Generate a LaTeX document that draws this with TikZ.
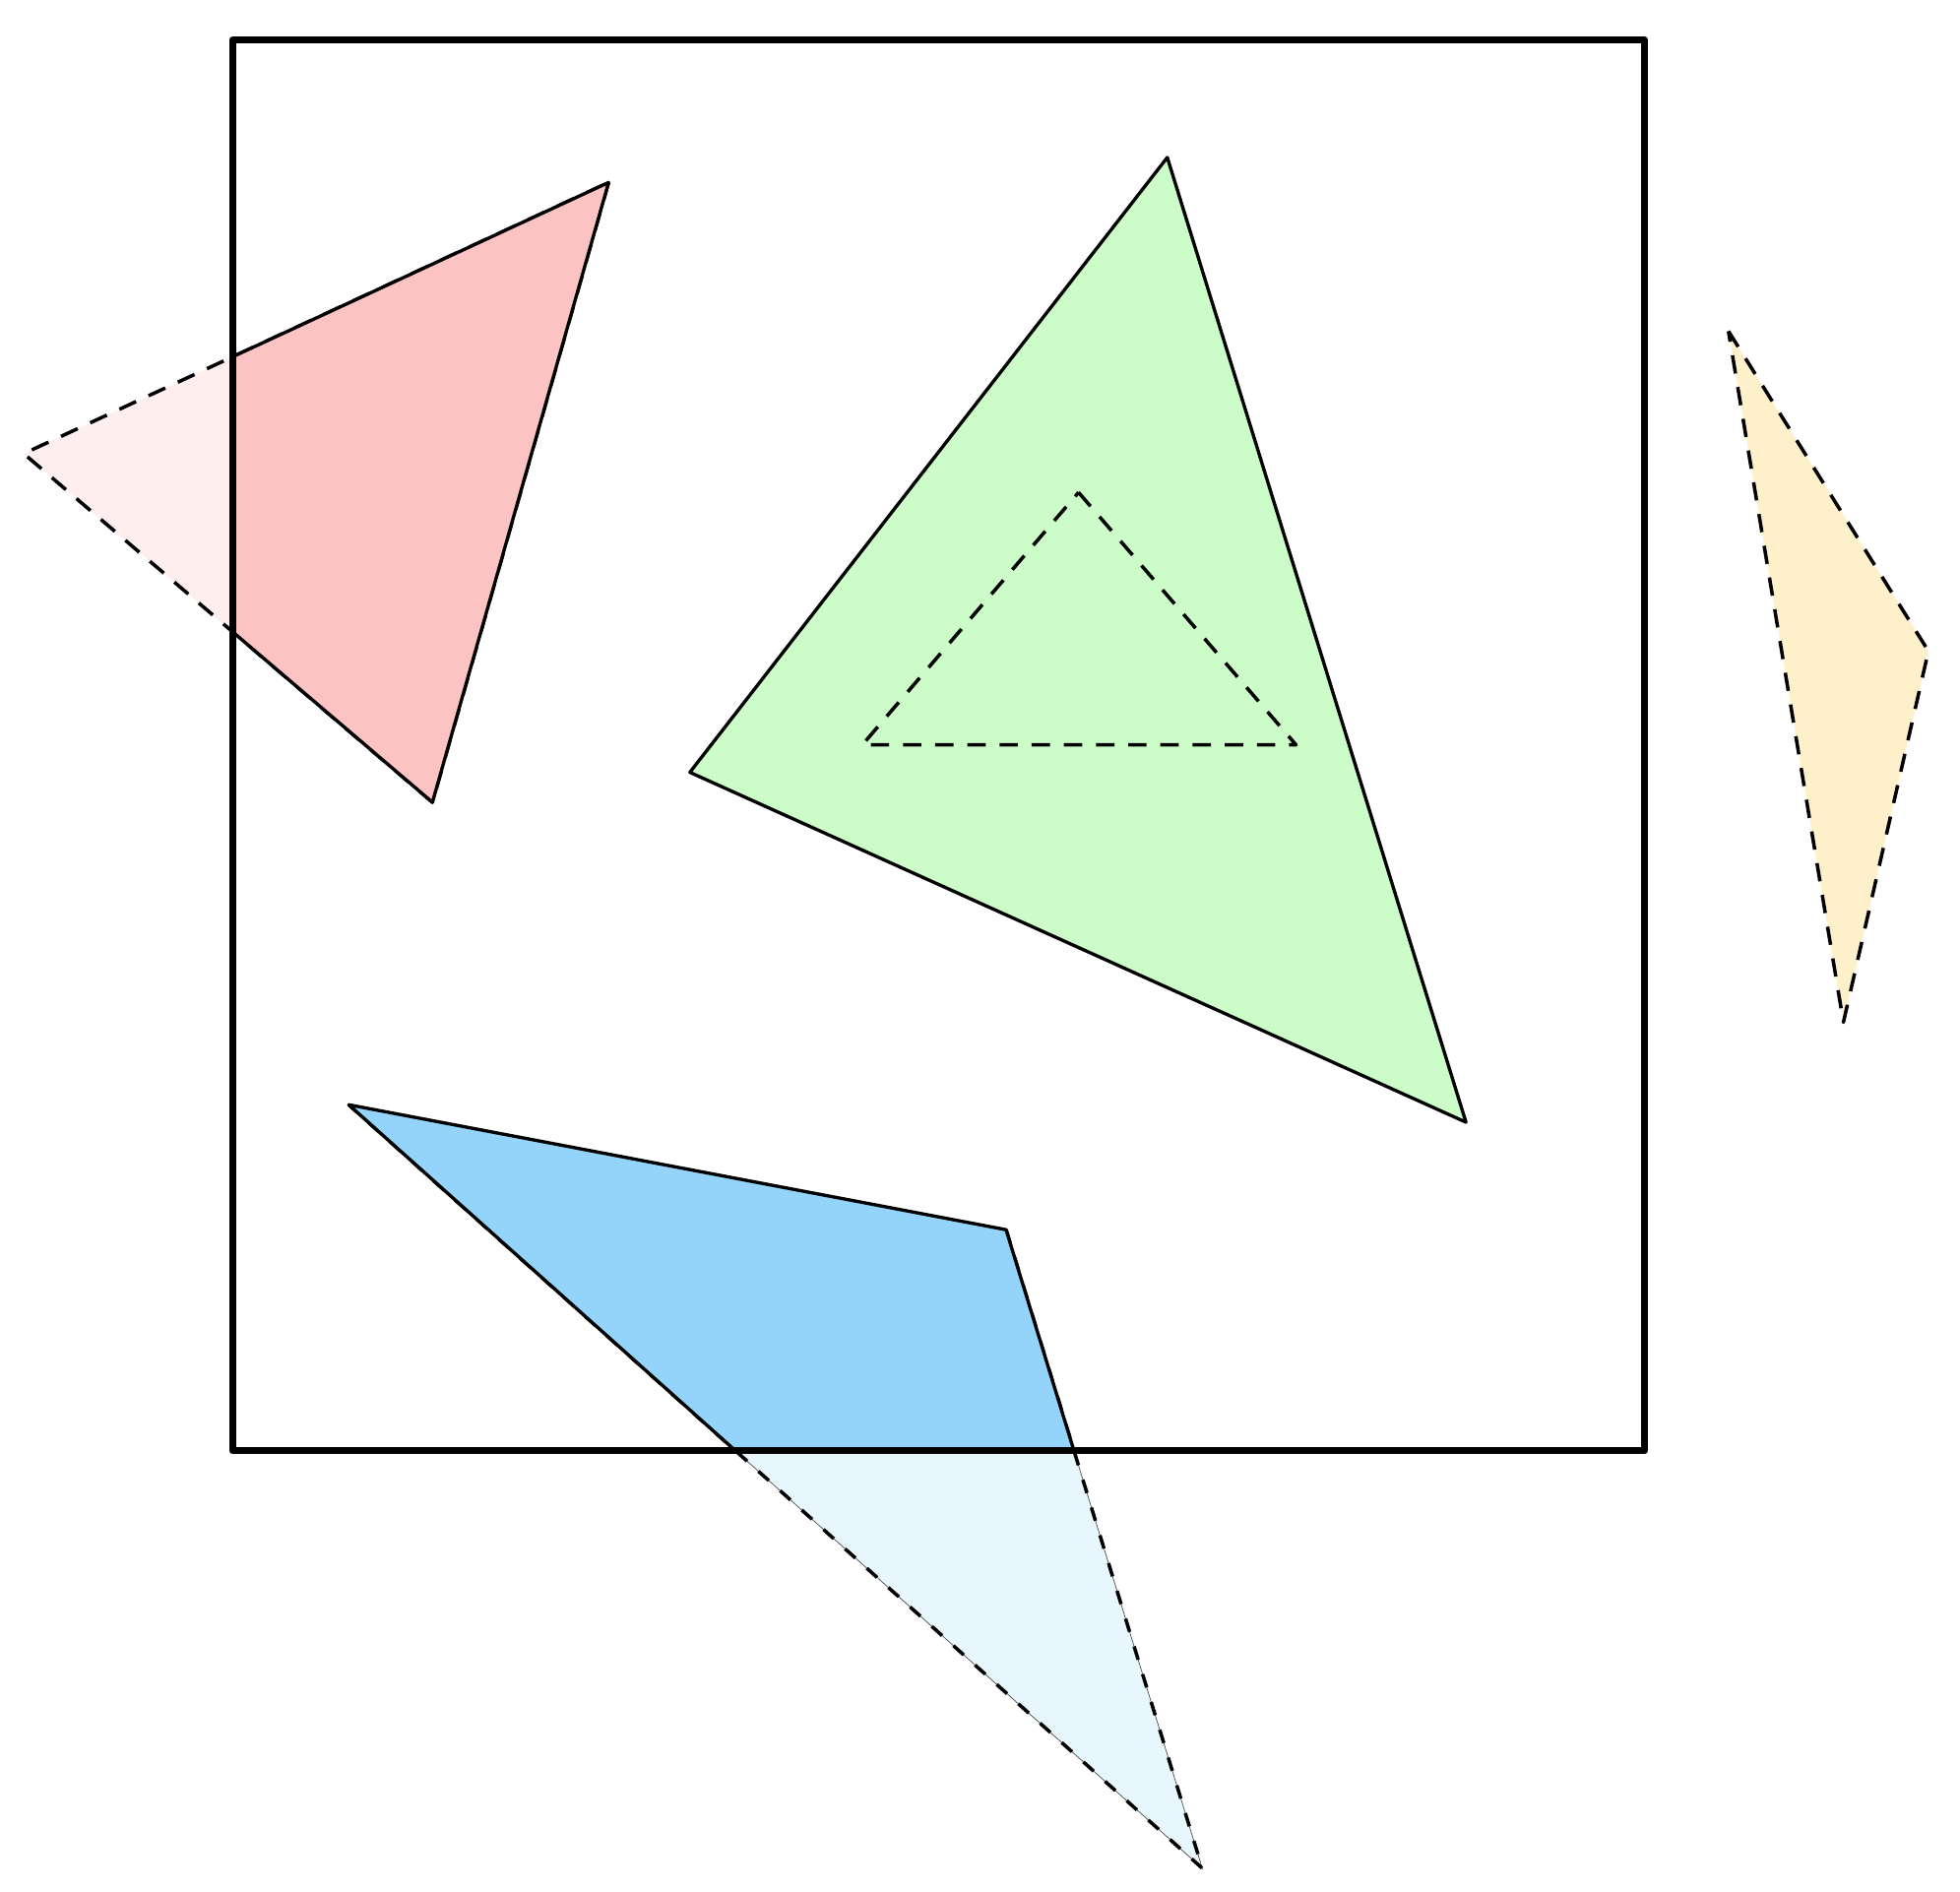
\documentclass[tikz,border=0pt]{standalone}
\usepackage{tikz}
\usetikzlibrary{positioning}
\definecolor{rosa}{HTML}{FCC3C3}
\definecolor{rosaclaro}{HTML}{FFEEEE}
\definecolor{verde}{HTML}{CCFCC8}
\definecolor{azul}{HTML}{94D4FA}
\definecolor{azulclaro}{HTML}{E8F6FE}
\definecolor{amarelo}{HTML}{FFF0CC}
\tikzset{
    borda/.style={line width=0.95pt, line join=round},
    tracejado/.style={line width=1pt, dash pattern=on 5.3pt off 4pt, line join=round},
    pontilhado/.style={line width=1pt, dash pattern=on 4pt off 4.4pt},
    quadro/.style={line width=2pt, line join=round}
}
\begin{document}
\begin{tikzpicture}[x=0.012695cm, y=-0.012695cm]
    \useasboundingbox (0,0) rectangle (1568.3,1513.2);

    % vertices
    \coordinate (q1) at (186,32);
    \coordinate (q2) at (1316,1161);
    \coordinate (r1) at (487,146);
    \coordinate (r2) at (346,642);
    \coordinate (r3) at (19,363);
    \coordinate (g1) at (934,126);
    \coordinate (g2) at (1173,898);
    \coordinate (g3) at (552,618);
    \coordinate (i1) at (863,394);
    \coordinate (i2) at (1037,596);
    \coordinate (i3) at (690,596);
    \coordinate (a1) at (279,884);
    \coordinate (a2) at (805,984);
    \coordinate (a3) at (962,1495);
    \coordinate (y1) at (1383,265);
    \coordinate (y2) at (1543,521);
    \coordinate (y3) at (1475,818);

    % parte de fora
    \fill[rosaclaro] (r1) -- (r2) -- (r3) -- cycle;
    \draw[tracejado] (r1) -- (r2) -- (r3) -- cycle;
    \fill[azulclaro] (a1) -- (a2) -- (a3) -- cycle;
    \draw[line width=0.2pt, black!70] (a2) -- (a3) -- (a1);
    \draw[pontilhado] (a2) -- (a3) -- (a1);
    \fill[amarelo] (y1) -- (y2) -- (y3) -- cycle;
    \draw[tracejado] (y1) -- (y2) -- (y3) -- cycle;

    % parte de dentro
    \begin{scope}
        \clip (q1) rectangle (q2);
        \fill[rosa] (r1) -- (r2) -- (r3) -- cycle;
        \draw[borda] (r1) -- (r2) -- (r3) -- cycle;
        \fill[azul] (a1) -- (a2) -- (a3) -- cycle;
        \draw[borda] (a1) -- (a2) -- (a3) -- cycle;
    \end{scope}

    \fill[verde] (g1) -- (g2) -- (g3) -- cycle;
    \draw[borda] (g1) -- (g2) -- (g3) -- cycle;
    \draw[tracejado] (i1) -- (i2) -- (i3) -- cycle;

    \draw[quadro] (q1) rectangle (q2);
\end{tikzpicture}
\end{document}
